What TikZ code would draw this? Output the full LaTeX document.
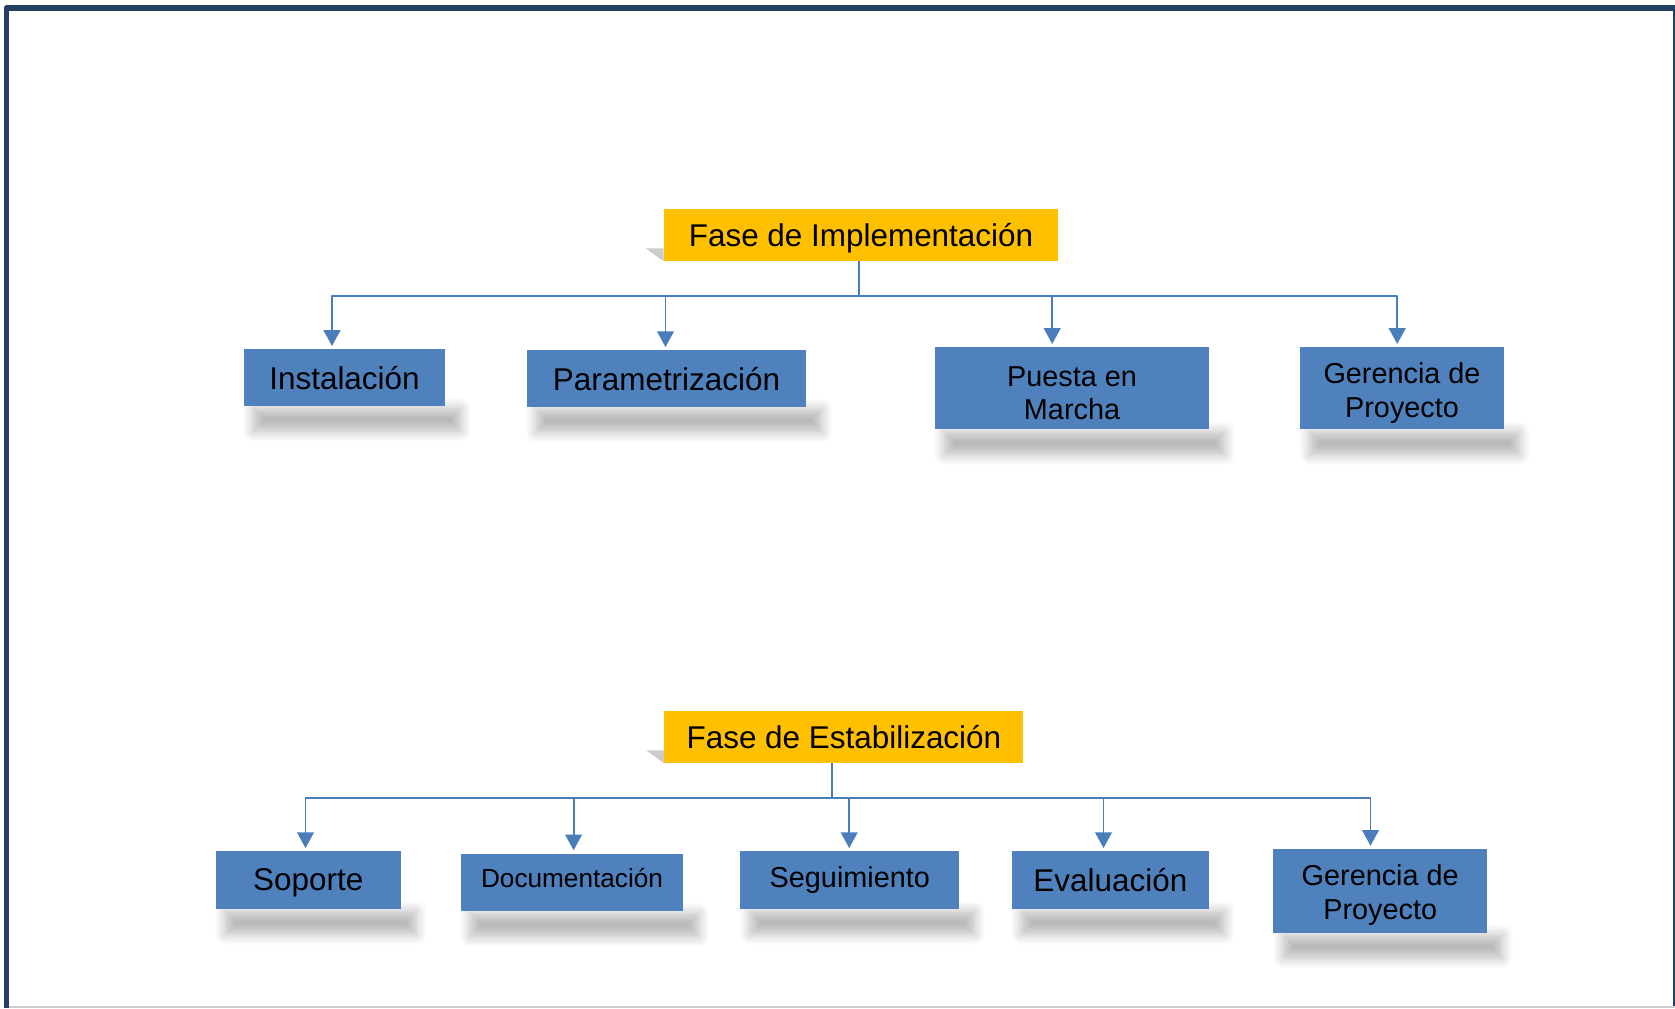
\documentclass[tikz,border=0pt]{standalone}
\usepackage{fontspec}
\setmainfont{Liberation Sans}
\usetikzlibrary{arrows.meta,calc,backgrounds,shadows.blur}
\definecolor{colFase}{HTML}{FFC000}
\definecolor{colCaja}{HTML}{4F81BD}
\definecolor{colLinea}{HTML}{4A7EBB}
\definecolor{colMarco}{HTML}{243F60}
\newcommand{\bajar}{\rule{0pt}{17pt}}
\begin{document}
\begin{tikzpicture}[x=0.02cm,y=-0.02cm,line join=round,
	fase/.style={fill=colFase,inner sep=0pt,minimum height=1.04cm,text height=17pt,text depth=3.8pt,font=\fontsize{17.9}{21}\selectfont},
	tarea/.style={fill=colCaja,inner sep=0pt,align=center,font=\fontsize{17.9}{21}\selectfont},
	doble/.style={font=\fontsize{16.4}{19.2}\selectfont},
	flecha/.style={draw=colLinea,line width=1.1pt,-{Triangle[width=9.5pt,length=9pt]}},
	sombra/.style={blur shadow={shadow xshift=0pt,shadow yshift=0pt,shadow blur radius=6pt,shadow blur steps=8,shadow opacity=28}}]
	\useasboundingbox (0,0) rectangle (1675,1008);
	% marco
	\draw[colMarco,line width=3.2pt] (6.5,1008) -- (6.5,8) -- (1675,8);
	\draw[colMarco,line width=1.1pt] (1674,8) -- (1674,1008);
	\draw[gray!40,line width=1.1pt] (9,1007) -- (1675,1007);
	% fase de implementacion
	\node[fase,minimum width=7.88cm] (impl) at (861,235) {Fase de Implementación};
	\fill[gray!40] ($(impl.south west)+(-18,-13)$) -- ($(impl.south west)+(0,-13)$) -- (impl.south west) -- cycle;
	\node[tarea,minimum width=4.04cm,minimum height=1.13cm] (inst) at (344.5,377.6) {Instalación};
	\node[tarea,minimum width=5.6cm,minimum height=1.13cm] (param) at (666.5,378.7) {Parametrización};
	\node[tarea,doble,minimum width=5.49cm,minimum height=1.64cm] (puesta) at (1072,388.3) {\bajar Puesta en\\Marcha};
	\node[tarea,doble,minimum width=4.08cm,minimum height=1.64cm] (ger1) at (1402,388.3) {\bajar Gerencia de\\Proyecto};
	\foreach \n/\dx in {inst/-12.5,param/-1,puesta/-19.8,ger1/-4.8}
		\draw[flecha] ($(impl.south)+(-2,0)$) -- ++(0,35) -| ($(\n.north)+(\dx,-3)$);
	% fase de estabilizacion
	\node[fase,minimum width=7.18cm] (estab) at (843.9,737) {Fase de Estabilización};
	\fill[gray!40] ($(estab.south west)+(-18,-13)$) -- ($(estab.south west)+(0,-13)$) -- (estab.south west) -- cycle;
	\node[tarea,minimum width=3.7cm,minimum height=1.15cm,text depth=1pt] (sop) at (308.2,880.2) {Soporte};
	\node[tarea,minimum width=4.46cm,minimum height=1.15cm,text depth=4.8pt,font=\fontsize{14.9}{18}\selectfont] (doc) at (572,882.4) {Documentación};
	\node[tarea,minimum width=4.38cm,minimum height=1.15cm,font=\fontsize{16.4}{19.2}\selectfont] (seg) at (849.8,880.2) {Seguimiento};
	\node[tarea,minimum width=3.95cm,minimum height=1.15cm] (eval) at (1110.4,880.2) {Evaluación};
	\node[tarea,doble,minimum width=4.27cm,minimum height=1.67cm] (ger2) at (1380.2,890.9) {\bajar Gerencia de\\Proyecto};
	\foreach \n/\dx in {sop/-2.7,doc/1.6,seg/-0.6,eval/-6.9,ger2/-9.7}
		\draw[flecha] ($(estab.south)+(-11.8,0)$) -- ++(0,35) -| ($(\n.north)+(\dx,-3)$);
	% sombras
	\begin{scope}[on background layer]
		\foreach \n in {inst,param,puesta,ger1,sop,doc,seg,eval,ger2}
			\path[sombra] ($(\n.south west)+(10,2)$) rectangle ($(\n.south east)+(15,25)$);
	\end{scope}
\end{tikzpicture}
\end{document}
